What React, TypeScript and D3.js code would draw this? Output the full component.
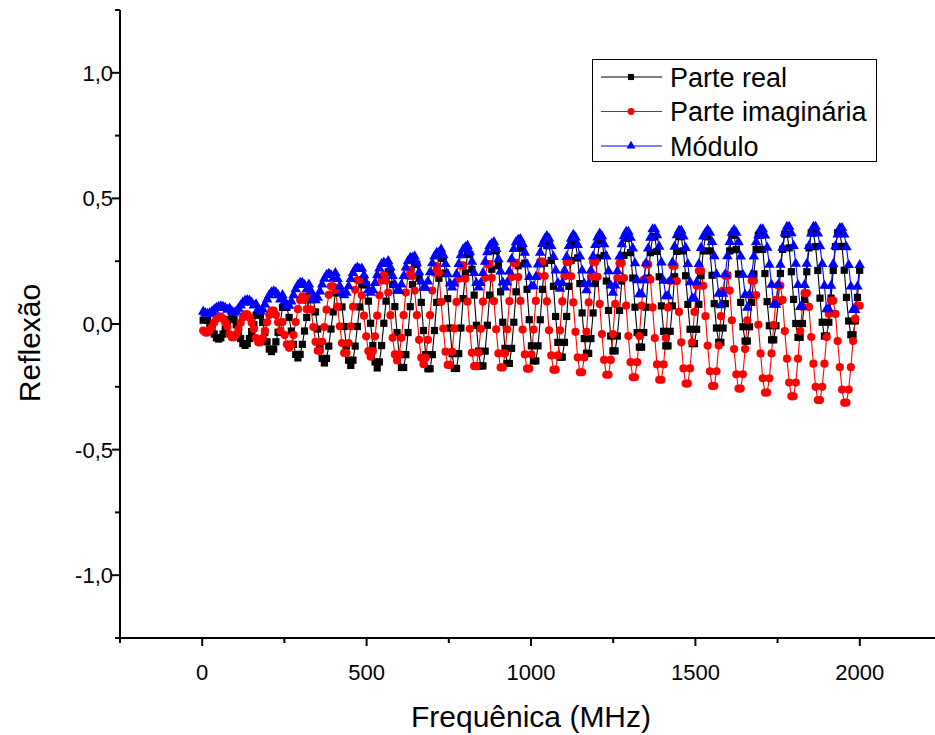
import React from 'react';
import * as d3 from 'd3';

// Frequency grid (MHz): uniform sampling of the sweep
const freqStart = 3;
const freqStep = 6.7;

// Parte real (black squares)
const parteReal = [
  0.015, 0.02, 0.015, 0.0, -0.02, -0.04, -0.055, -0.06, -0.055, -0.04, -0.02, 0.0,
  0.018, 0.025, 0.018, -0.003, -0.03, -0.058, -0.078, -0.085, -0.078, -0.058, -0.03, -0.003,
  0.035, 0.045, 0.035, 0.006, -0.033, -0.071, -0.1, -0.11, -0.1, -0.071, -0.033, 0.006,
  0.066, 0.08, 0.066, 0.026, -0.028, -0.081, -0.121, -0.135, -0.121, -0.081, -0.028, 0.026,
  0.097, 0.115, 0.097, 0.048, -0.02, -0.088, -0.137, -0.155, -0.137, -0.088, -0.02, 0.048,
  0.124, 0.145, 0.124, 0.068, -0.01, -0.088, -0.144, -0.165, -0.144, -0.088, -0.01, 0.068,
  0.156, 0.18, 0.156, 0.091, 0.003, -0.086, -0.151, -0.175, -0.151, -0.086, 0.003, 0.091,
  0.208, 0.208, 0.157, 0.069, -0.034, -0.122, -0.173, -0.173, -0.122, -0.034, 0.069, 0.157,
  0.238, 0.238, 0.182, 0.086, -0.026, -0.122, -0.178, -0.178, -0.122, -0.026, 0.086, 0.182,
  0.262, 0.262, 0.203, 0.101, -0.016, -0.118, -0.177, -0.177, -0.118, -0.016, 0.101, 0.203,
  0.277, 0.277, 0.218, 0.115, -0.005, -0.108, -0.167, -0.167, -0.108, -0.005, 0.115, 0.218,
  0.292, 0.292, 0.232, 0.128, 0.007, -0.097, -0.157, -0.157, -0.097, 0.007, 0.128, 0.232,
  0.302, 0.302, 0.242, 0.138, 0.017, -0.087, -0.147, -0.147, -0.087, 0.017, 0.138, 0.242,
  0.312, 0.312, 0.253, 0.15, 0.03, -0.073, -0.132, -0.132, -0.073, 0.03, 0.15, 0.253,
  0.322, 0.322, 0.263, 0.161, 0.044, -0.058, -0.117, -0.117, -0.058, 0.044, 0.161, 0.263,
  0.332, 0.332, 0.273, 0.171, 0.054, -0.048, -0.107, -0.107, -0.048, 0.054, 0.171, 0.273,
  0.342, 0.342, 0.284, 0.183, 0.067, -0.034, -0.092, -0.092, -0.034, 0.067, 0.183, 0.284,
  0.347, 0.347, 0.289, 0.188, 0.072, -0.029, -0.087, -0.087, -0.029, 0.072, 0.188, 0.289,
  0.348, 0.348, 0.291, 0.192, 0.078, -0.021, -0.078, -0.078, -0.021, 0.078, 0.192, 0.291,
  0.348, 0.348, 0.291, 0.194, 0.081, -0.016, -0.073, -0.073, -0.016, 0.081, 0.194, 0.291,
  0.353, 0.353, 0.296, 0.199, 0.086, -0.011, -0.068, -0.068, -0.011, 0.086, 0.199, 0.296,
  0.353, 0.353, 0.297, 0.201, 0.089, -0.007, -0.063, -0.063, -0.007, 0.089, 0.201, 0.297,
  0.358, 0.358, 0.303, 0.208, 0.098, 0.002, -0.053, -0.053, 0.002, 0.098, 0.208, 0.303,
  0.363, 0.363, 0.308, 0.213, 0.103, 0.007, -0.048, -0.048, 0.007, 0.103, 0.213, 0.308,
  0.363, 0.363, 0.309, 0.214, 0.106, 0.012, -0.043, -0.043, 0.012, 0.106, 0.214,
];

// Parte imaginária (red circles)
const parteImaginaria = [
  -0.026, -0.034, -0.034, -0.026, -0.011, 0.006, 0.021, 0.029, 0.029, 0.021, 0.006, -0.011,
  -0.041, -0.053, -0.053, -0.041, -0.02, 0.005, 0.026, 0.038, 0.038, 0.026, 0.005, -0.02,
  -0.056, -0.073, -0.073, -0.056, -0.027, 0.007, 0.036, 0.053, 0.053, 0.036, 0.007, -0.027,
  0.008, -0.044, -0.081, -0.095, -0.081, -0.044, 0.008, 0.059, 0.096, 0.11, 0.096, 0.059,
  0.116, 0.057, -0.012, -0.071, -0.106, -0.106, -0.071, -0.012, 0.057, 0.116, 0.15, 0.15,
  0.136, 0.069, -0.009, -0.076, -0.115, -0.115, -0.076, -0.009, 0.069, 0.136, 0.175, 0.175,
  0.114, 0.033, -0.049, -0.108, -0.13, -0.108, -0.049, 0.033, 0.114, 0.173, 0.195, 0.173,
  0.125, 0.035, -0.055, -0.121, -0.145, -0.121, -0.055, 0.035, 0.125, 0.191, 0.215, 0.191,
  0.133, 0.035, -0.063, -0.134, -0.16, -0.134, -0.063, 0.035, 0.133, 0.204, 0.23, 0.204,
  0.088, -0.018, -0.11, -0.163, -0.163, -0.11, -0.018, 0.088, 0.18, 0.233, 0.233, 0.18,
  0.089, -0.019, -0.114, -0.168, -0.168, -0.114, -0.019, 0.089, 0.184, 0.238, 0.238, 0.184,
  0.091, -0.021, -0.117, -0.173, -0.173, -0.117, -0.021, 0.091, 0.187, 0.243, 0.243, 0.187,
  0.092, -0.022, -0.121, -0.178, -0.178, -0.121, -0.022, 0.092, 0.191, 0.248, 0.248, 0.191,
  0.09, -0.025, -0.125, -0.182, -0.182, -0.125, -0.025, 0.09, 0.19, 0.247, 0.247, 0.19,
  0.086, -0.031, -0.133, -0.192, -0.192, -0.133, -0.031, 0.086, 0.188, 0.247, 0.247, 0.188,
  0.08, -0.04, -0.143, -0.202, -0.202, -0.143, -0.04, 0.08, 0.183, 0.242, 0.242, 0.183,
  0.073, -0.048, -0.152, -0.212, -0.212, -0.152, -0.048, 0.073, 0.177, 0.237, 0.237, 0.177,
  0.066, -0.056, -0.161, -0.222, -0.222, -0.161, -0.056, 0.066, 0.171, 0.232, 0.232, 0.171,
  0.048, -0.073, -0.177, -0.237, -0.237, -0.177, -0.073, 0.048, 0.152, 0.212, 0.212, 0.152,
  0.031, -0.086, -0.188, -0.247, -0.247, -0.188, -0.086, 0.031, 0.133, 0.192, 0.192, 0.133,
  0.015, -0.1, -0.2, -0.257, -0.257, -0.2, -0.1, 0.015, 0.115, 0.172, 0.172, 0.115,
  -0.003, -0.117, -0.216, -0.273, -0.273, -0.216, -0.117, -0.003, 0.096, 0.153, 0.153, 0.096,
  -0.028, -0.138, -0.233, -0.288, -0.288, -0.233, -0.138, -0.028, 0.068, 0.123, 0.123, 0.068,
  -0.052, -0.158, -0.25, -0.303, -0.303, -0.25, -0.158, -0.052, 0.04, 0.093, 0.093, 0.04,
  -0.068, -0.172, -0.261, -0.313, -0.313, -0.261, -0.172, -0.068, 0.021, 0.073, 0.073,
];

// Módulo (blue triangles)
const modulo = [
  0.049, 0.043, 0.04, 0.043, 0.049, 0.057, 0.064, 0.068, 0.07, 0.068, 0.064, 0.057,
  0.061, 0.05, 0.045, 0.05, 0.061, 0.074, 0.085, 0.093, 0.095, 0.093, 0.085, 0.074,
  0.078, 0.059, 0.05, 0.059, 0.078, 0.098, 0.115, 0.126, 0.13, 0.126, 0.115, 0.098,
  0.115, 0.09, 0.073, 0.073, 0.09, 0.115, 0.138, 0.155, 0.164, 0.164, 0.155, 0.138,
  0.157, 0.13, 0.105, 0.095, 0.105, 0.13, 0.157, 0.18, 0.195, 0.2, 0.195, 0.18,
  0.203, 0.179, 0.15, 0.125, 0.115, 0.125, 0.15, 0.179, 0.203, 0.219, 0.225, 0.219,
  0.221, 0.194, 0.163, 0.136, 0.125, 0.136, 0.163, 0.194, 0.221, 0.239, 0.245, 0.239,
  0.25, 0.225, 0.191, 0.157, 0.133, 0.133, 0.157, 0.191, 0.225, 0.25, 0.263, 0.263,
  0.269, 0.242, 0.206, 0.169, 0.144, 0.144, 0.169, 0.206, 0.242, 0.269, 0.283, 0.283,
  0.297, 0.274, 0.239, 0.198, 0.161, 0.145, 0.161, 0.198, 0.239, 0.274, 0.297, 0.305,
  0.311, 0.286, 0.248, 0.203, 0.163, 0.145, 0.163, 0.203, 0.248, 0.286, 0.311, 0.32,
  0.326, 0.299, 0.258, 0.209, 0.165, 0.145, 0.165, 0.209, 0.258, 0.299, 0.326, 0.335,
  0.338, 0.319, 0.284, 0.237, 0.187, 0.15, 0.15, 0.187, 0.237, 0.284, 0.319, 0.338,
  0.35, 0.34, 0.311, 0.267, 0.213, 0.163, 0.14, 0.163, 0.213, 0.267, 0.311, 0.34,
  0.355, 0.345, 0.315, 0.269, 0.213, 0.16, 0.135, 0.16, 0.213, 0.269, 0.315, 0.345,
  0.36, 0.349, 0.318, 0.269, 0.21, 0.153, 0.125, 0.153, 0.21, 0.269, 0.318, 0.349,
  0.367, 0.367, 0.344, 0.301, 0.242, 0.174, 0.119, 0.119, 0.174, 0.242, 0.301, 0.344,
  0.377, 0.377, 0.353, 0.308, 0.245, 0.172, 0.111, 0.111, 0.172, 0.245, 0.308, 0.353,
  0.372, 0.372, 0.348, 0.303, 0.239, 0.166, 0.102, 0.102, 0.166, 0.239, 0.303, 0.348,
  0.363, 0.375, 0.363, 0.327, 0.27, 0.198, 0.121, 0.075, 0.121, 0.198, 0.27, 0.327,
  0.363, 0.375, 0.363, 0.326, 0.269, 0.196, 0.116, 0.065, 0.116, 0.196, 0.269, 0.326,
  0.352, 0.377, 0.377, 0.352, 0.304, 0.236, 0.156, 0.077, 0.077, 0.156, 0.236, 0.304,
  0.361, 0.387, 0.387, 0.361, 0.311, 0.24, 0.155, 0.068, 0.068, 0.155, 0.24, 0.311,
  0.36, 0.387, 0.387, 0.36, 0.31, 0.239, 0.152, 0.059, 0.059, 0.152, 0.239, 0.31,
  0.356, 0.382, 0.382, 0.356, 0.306, 0.235, 0.149, 0.056, 0.056, 0.149, 0.235,
];

const seriesNames = ['Parte real', 'Parte imaginária', 'Módulo'];
const seriesColors = ['#000000', '#ff0000', '#0000ff'];

const xMajorTicks = [0, 500, 1000, 1500, 2000];
const xMinorTicks = [-250, 250, 750, 1250, 1750, 2250];
const yMajorTicks = [-1.0, -0.5, 0.0, 0.5, 1.0];
const yTickLabels = ['-1,0', '-0,5', '0,0', '0,5', '1,0'];
const yMinorTicks = [-1.25, -0.75, -0.25, 0.25, 0.75, 1.25];

const xTitle = 'Frequênica (MHz)';
const yTitle = 'Reflexão';

const FONT = "'Liberation Sans', Arial, Helvetica, sans-serif";

function Marker({ shape, cx, cy, color, tri, s = 1 }: { shape: string; cx: number; cy: number; color: string; tri: string; s?: number }) {
  if (shape === 'square') {
    const h = 3.6 * s;
    return <rect x={cx - h} y={cy - h} width={2 * h} height={2 * h} fill={color} />;
  }
  if (shape === 'circle') {
    return <circle cx={cx} cy={cy} r={4.1 * s} fill={color} />;
  }
  return <path d={tri} transform={`translate(${cx},${cy}) scale(${s})`} fill={color} />;
}

export default function App() {
  const W = 935;
  const H = 735;
  const x = d3.scaleLinear().domain([-250, 2250]).range([120, 942]);
  const y = d3.scaleLinear().domain([-1.25, 1.25]).range([638, 10]);

  const freq = parteReal.map((_, i) => freqStart + i * freqStep);

  const series = [
    { name: seriesNames[0], color: seriesColors[0], values: parteReal, shape: 'square' },
    { name: seriesNames[1], color: seriesColors[1], values: parteImaginaria, shape: 'circle' },
    { name: seriesNames[2], color: seriesColors[2], values: modulo, shape: 'triangle' },
  ];

  const lineGen = d3
    .line<number>()
    .x((_, i) => x(freq[i]))
    .y((d) => y(d));

  const tri = d3.symbol().type(d3.symbolTriangle).size(48)() as string;

  const x0 = x(-250);
  const y0 = y(-1.25);

  const legendX = 592;
  const legendY = 59;
  const legendRows = [77, 111.5, 146];

  return (
    <svg
      width={W}
      height={H}
      viewBox={`0 0 ${W} ${H}`}
      style={{ position: 'absolute', left: 0, top: 0, background: '#ffffff' }}
      fontFamily={FONT}
    >
      <rect x={0} y={0} width={W} height={H} fill="#ffffff" />

      {/* data lines */}
      {series.map((s) => (
        <path key={`l-${s.name}`} d={lineGen(s.values) || ''} fill="none" stroke={s.color} strokeWidth={1.1} />
      ))}
      {/* markers */}
      {series.map((s) => (
        <g key={`m-${s.name}`}>
          {s.values.map((v, i) => (
            <Marker key={i} shape={s.shape} cx={x(freq[i])} cy={y(v)} color={s.color} tri={tri} />
          ))}
        </g>
      ))}

      {/* axes */}
      <line x1={x0} x2={x0} y1={y(1.25)} y2={y0 + 1} stroke="#000" strokeWidth={2} />
      <line x1={x0 - 1} x2={942} y1={y0} y2={y0} stroke="#000" strokeWidth={2} />

      {yMajorTicks.map((t, i) => (
        <g key={`yt-${t}`}>
          <line x1={x0 - 8} x2={x0} y1={y(t)} y2={y(t)} stroke="#000" strokeWidth={2} />
          <text x={x0 - 7} y={y(t)} dy="0.36em" textAnchor="end" fontSize={22} fill="#000">
            {yTickLabels[i]}
          </text>
        </g>
      ))}
      {yMinorTicks.map((t) => (
        <line key={`ym-${t}`} x1={x0 - 5} x2={x0} y1={y(t)} y2={y(t)} stroke="#000" strokeWidth={2} />
      ))}

      {xMajorTicks.map((t) => (
        <g key={`xt-${t}`}>
          <line x1={x(t)} x2={x(t)} y1={y0} y2={y0 + 8} stroke="#000" strokeWidth={2} />
          <text x={x(t)} y={y0 + 42} textAnchor="middle" fontSize={22} fill="#000">
            {t}
          </text>
        </g>
      ))}
      {xMinorTicks.map((t) => (
        <line key={`xm-${t}`} x1={x(t)} x2={x(t)} y1={y0} y2={y0 + 5} stroke="#000" strokeWidth={2} />
      ))}

      {/* axis titles */}
      <text x={531} y={727} textAnchor="middle" fontSize={30} fill="#000">
        {xTitle}
      </text>
      <text transform={`translate(40, 343) rotate(-90)`} textAnchor="middle" fontSize={30} fill="#000">
        {yTitle}
      </text>

      {/* legend */}
      <rect x={legendX + 0.5} y={legendY + 0.5} width={284} height={102} fill="#ffffff" stroke="#000" strokeWidth={1} />
      {series.map((s, i) => (
        <g key={`lg-${s.name}`}>
          <line x1={601} x2={662} y1={legendRows[i]} y2={legendRows[i]} stroke={s.color} strokeWidth={1} />
          <Marker shape={s.shape} cx={631} cy={legendRows[i]} color={s.color} tri={tri} s={0.85} />
          <text x={670} y={legendRows[i]} dy="0.36em" fontSize={27} fill="#000">
            {s.name}
          </text>
        </g>
      ))}
    </svg>
  );
}
